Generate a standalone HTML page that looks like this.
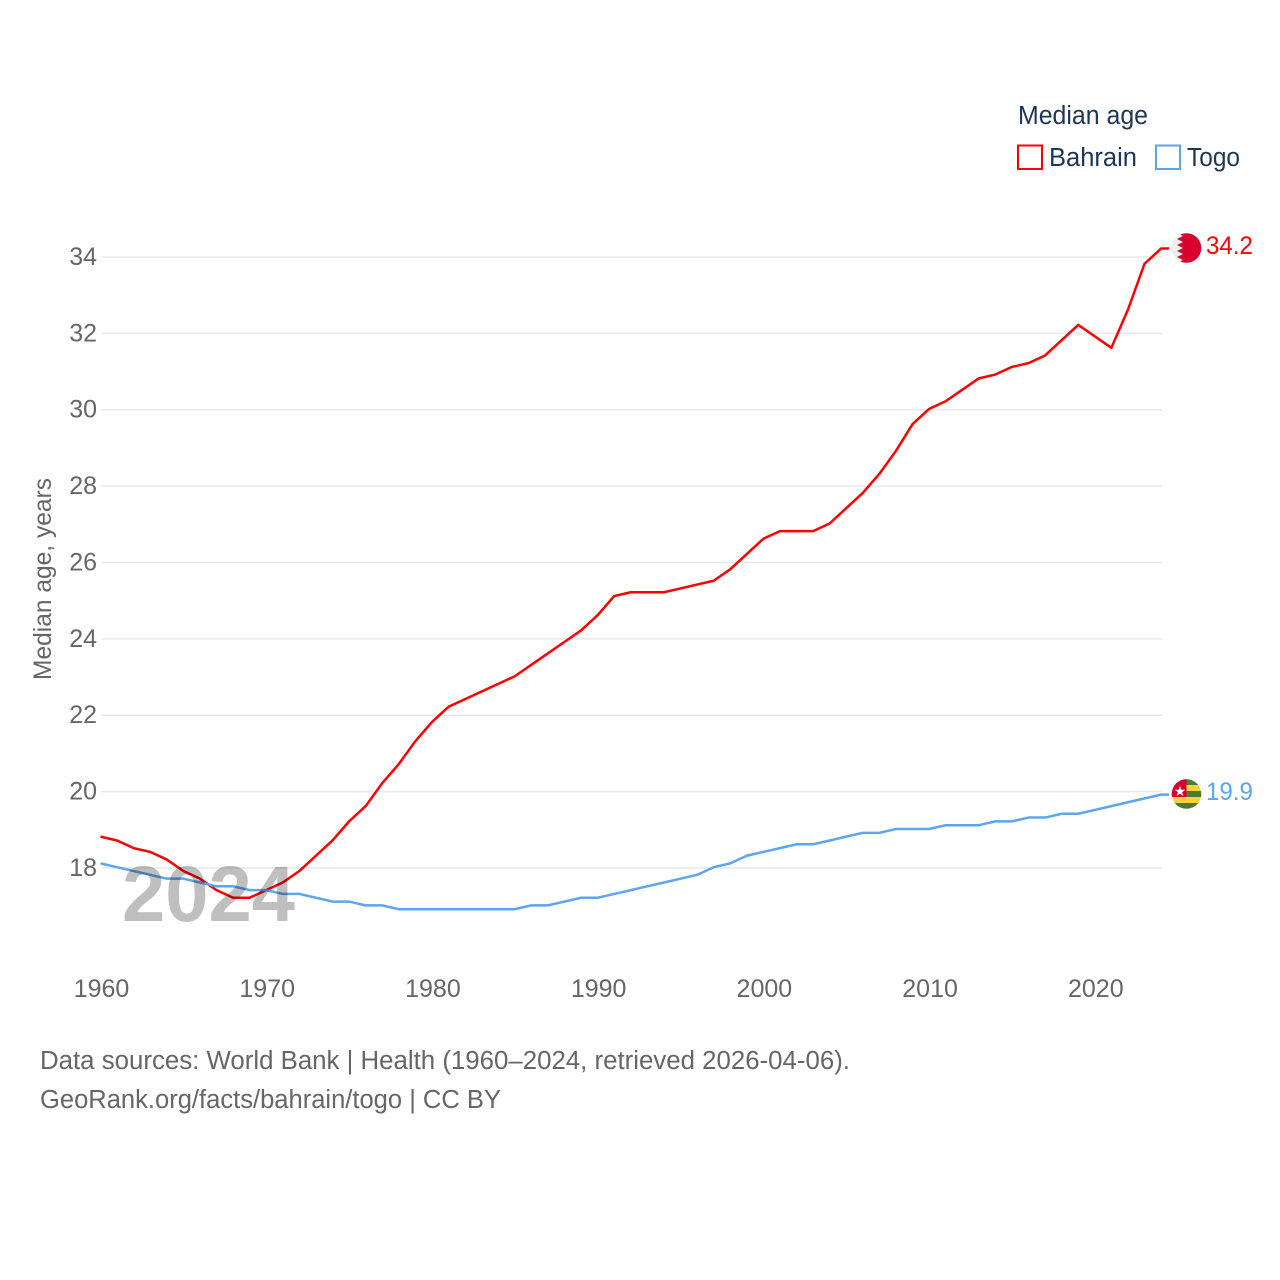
<!DOCTYPE html>
<html lang="en">
<head>
<meta charset="utf-8">
<title>Median age: Bahrain and Togo</title>
<style>
html,body{margin:0;padding:0;background:#fff;width:1280px;height:1280px;overflow:hidden}
svg{display:block}
text{font-family:"Liberation Sans",sans-serif}
.axis{font-size:25px;fill:#666}
.note{font-size:25.5px;fill:#666}
.legend{font-size:25.5px;fill:#1d3557}
</style>
</head>
<body>
<svg id="chart" xmlns="http://www.w3.org/2000/svg" width="1280" height="1280" viewBox="0 0 1280 1280">
  <defs>
    <clipPath id="clip-bahrain"><circle cx="1186.500" cy="248" r="14.800"/></clipPath>
    <clipPath id="clip-togo"><circle cx="1186.500" cy="794" r="14.800"/></clipPath>
  </defs>
  <g id="grid"></g>
  <g id="y-ticks"></g>
  <g id="x-ticks"></g>
  <text class="axis" transform="translate(51,680) rotate(-90)" textLength="202" lengthAdjust="spacingAndGlyphs">Median age, years</text>
  <g id="series" transform="translate(-1,-0.8)"></g>
  <text x="122" y="921" font-size="79" font-weight="700" fill="#000" fill-opacity="0.25" textLength="173" lengthAdjust="spacingAndGlyphs">2024</text>

  <g>
    <text class="legend" x="1018" y="124" textLength="130" lengthAdjust="spacingAndGlyphs">Median age</text>
    <rect x="1018" y="145.500" width="24" height="23.500" fill="#fff" stroke="#ff0000" stroke-width="2"/>
    <text class="legend" x="1049" y="166" textLength="88" lengthAdjust="spacingAndGlyphs">Bahrain</text>
    <rect x="1156" y="145.500" width="24" height="23.500" fill="#fff" stroke="#5da5ee" stroke-width="2"/>
    <text class="legend" x="1187" y="166" textLength="53" lengthAdjust="spacingAndGlyphs">Togo</text>
  </g>

  <g clip-path="url(#clip-bahrain)">
    <rect x="1171" y="233" width="31" height="30" fill="#eeeeee"/>
    <path d="M1202 233H1177L1183 236L1177 239L1183 242L1177 245L1183 248L1177 251L1183 254L1177 257L1183 260L1177 263H1202Z" fill="#d7002e"/>
  </g>
  <g clip-path="url(#clip-togo)">
    <rect x="1171" y="779" width="31" height="6" fill="#4d7a35"/>
    <rect x="1171" y="785" width="31" height="6" fill="#f8d33c"/>
    <rect x="1171" y="791" width="31" height="6" fill="#4d7a35"/>
    <rect x="1171" y="797" width="31" height="6" fill="#f8d33c"/>
    <rect x="1171" y="803" width="31" height="6" fill="#4d7a35"/>
    <rect x="1171" y="779" width="15.500" height="18" fill="#d7002e"/>
    <text x="1180" y="796" font-size="14" fill="#fff" text-anchor="middle">★</text>
  </g>
  <text id="value-bahrain" x="1206" y="254" font-size="25" fill="#ff0000" textLength="47" lengthAdjust="spacingAndGlyphs"></text>
  <text id="value-togo" x="1206" y="800" font-size="25" fill="#5da5ee" textLength="47" lengthAdjust="spacingAndGlyphs"></text>

  <text class="note" x="40" y="1069" textLength="810" lengthAdjust="spacingAndGlyphs">Data sources: World Bank | Health (1960–2024, retrieved 2026-04-06).</text>
  <text class="note" x="40" y="1108" textLength="461" lengthAdjust="spacingAndGlyphs">GeoRank.org/facts/bahrain/togo | CC BY</text>
</svg>
<script>
const startYear = 1960;
const bahrain = [18.8,18.7,18.5,18.4,18.2,17.9,17.7,17.4,17.2,17.2,17.4,17.6,17.9,18.3,18.7,19.2,19.6,20.2,20.7,21.3,21.8,22.2,22.4,22.6,22.8,23.0,23.3,23.6,23.9,24.2,24.6,25.1,25.2,25.2,25.2,25.3,25.4,25.5,25.8,26.2,26.6,26.8,26.8,26.8,27.0,27.4,27.8,28.3,28.9,29.6,30.0,30.2,30.5,30.8,30.9,31.1,31.2,31.4,31.8,32.2,31.9,31.6,32.6,33.8,34.2];
const togo = [18.1,18.0,17.9,17.8,17.7,17.7,17.6,17.5,17.5,17.4,17.4,17.3,17.3,17.2,17.1,17.1,17.0,17.0,16.9,16.9,16.9,16.9,16.9,16.9,16.9,16.9,17.0,17.0,17.1,17.2,17.2,17.3,17.4,17.5,17.6,17.7,17.8,18.0,18.1,18.3,18.4,18.5,18.6,18.6,18.7,18.8,18.9,18.9,19.0,19.0,19.0,19.1,19.1,19.1,19.2,19.2,19.3,19.3,19.4,19.4,19.5,19.6,19.7,19.8,19.9];
const yTicks = [18,20,22,24,26,28,30,32,34];
const xTicks = [1960,1970,1980,1990,2000,2010,2020];

const NS = 'http://www.w3.org/2000/svg';
function xScale(year) { return 101.5 + (year - 1960) * 16.5717; }
function yScale(v) { return 868 - (v - 18) * 38.19; }

const gridGroup = document.getElementById('grid');
const yGroup = document.getElementById('y-ticks');
const xGroup = document.getElementById('x-ticks');
const seriesGroup = document.getElementById('series');

yTicks.forEach(function (t) {
  const line = document.createElementNS(NS, 'line');
  
  
  line.setAttribute('x1', xScale(1960));
  line.setAttribute('x2', xScale(2024));
  line.setAttribute('y1', yScale(t));
  line.setAttribute('y2', yScale(t));
  line.setAttribute('stroke', '#e9e9e9');
  line.setAttribute('stroke-width', '1.5');
  gridGroup.appendChild(line);

  const label = document.createElementNS(NS, 'text');
  
  
  label.setAttribute('class', 'axis');
  label.setAttribute('x', 97);
  label.setAttribute('y', yScale(t) + 8);
  label.setAttribute('text-anchor', 'end');
  label.textContent = t;
  yGroup.appendChild(label);
});

xTicks.forEach(function (t) {
  const label = document.createElementNS(NS, 'text');
  
  
  label.setAttribute('class', 'axis');
  label.setAttribute('x', xScale(t));
  label.setAttribute('y', 997);
  label.setAttribute('text-anchor', 'middle');
  label.textContent = t;
  xGroup.appendChild(label);
});

function pathFor(values) {
  const points = values.map(function (v, i) {
    return (i ? 'L' : 'M') + xScale(startYear + i).toFixed(2) + ' ' + yScale(v).toFixed(2);
  }).join('');
  const lastIndex = values.length - 1;
  const connector = 'H' + (xScale(startYear + lastIndex) + 8).toFixed(2);
  return points + connector;
}

const bahrainLine = document.createElementNS(NS, 'path');


bahrainLine.setAttribute('d', pathFor(bahrain));
bahrainLine.setAttribute('fill', 'none');
bahrainLine.setAttribute('stroke', '#ff0000');
bahrainLine.setAttribute('stroke-width', '2.5');
bahrainLine.setAttribute('stroke-linejoin', 'round');
seriesGroup.appendChild(bahrainLine);

const togoLine = document.createElementNS(NS, 'path');


togoLine.setAttribute('d', pathFor(togo));
togoLine.setAttribute('fill', 'none');
togoLine.setAttribute('stroke', '#5da5ee');
togoLine.setAttribute('stroke-width', '2.5');
togoLine.setAttribute('stroke-linejoin', 'round');
seriesGroup.appendChild(togoLine);

document.getElementById('value-bahrain').textContent = bahrain[bahrain.length - 1].toFixed(1);
document.getElementById('value-togo').textContent = togo[togo.length - 1].toFixed(1);
</script>
</body>
</html>
